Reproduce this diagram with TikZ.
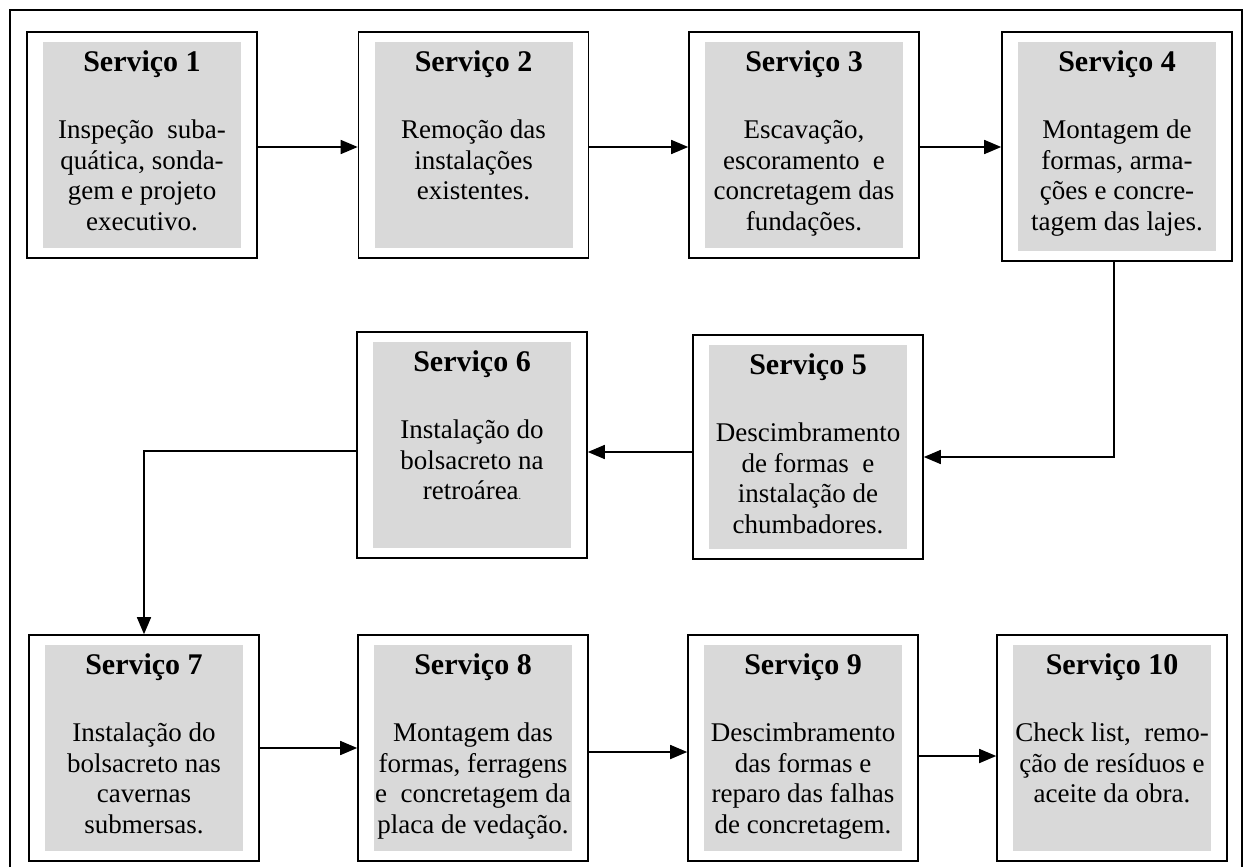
\documentclass[tikz,border=0pt]{standalone}
\usepackage{fontspec}
\setmainfont{Liberation Serif}
\usetikzlibrary{arrows.meta,calc}
\definecolor{boxgray}{RGB}{217,217,217}
\begin{document}
\begin{tikzpicture}[x=1pt,y=-1pt,
  svc/.style={draw, line width=1.6pt, minimum width=230pt, minimum height=226pt, inner sep=0pt,
    path picture={\fill[boxgray] ([xshift=16pt,yshift=-10pt]path picture bounding box.north west) rectangle ([xshift=-16pt,yshift=10pt]path picture bounding box.south east);}},
  ttl/.style={font=\fontsize{30}{34}\selectfont\bfseries, inner sep=0pt, anchor=base},
  body/.style={font=\fontsize{27}{30.5}\selectfont, align=center, inner sep=0pt, anchor=north},
  arr/.style={line width=1.6pt, -{Triangle[length=17pt,width=14pt]}},
  frame/.style={line width=1.6pt}]
\useasboundingbox (0,0) rectangle (1246,867);
\draw[frame] (10,867) -- (10,10) -- (1242,10) -- (1242,867);

% boxes
\node[svc] (b1) at (142,145) {};
\node[svc] (b2) at (473.5,145) {};
\node[svc] (b3) at (804,145) {};
\node[svc, minimum height=229pt] (b4) at (1117,146.5) {};
\node[svc] (b6) at (472,445) {};
\node[svc, minimum height=224pt] (b5) at (808,447) {};
\node[svc] (b7) at (144,748) {};
\node[svc] (b8) at (473,748) {};
\node[svc] (b9) at (803,748) {};
\node[svc] (b10) at (1112,748) {};

% titles
\foreach \i in {1,...,10}{
  \node[ttl] (t\i) at ([yshift=-40pt]b\i.north) {Serviço \i};
}

% bodies
\node[body] (d1) at ([yshift=-86pt]b1.north) {\strut Inspeção~~suba-\\\strut quática, sonda-\\\strut gem e projeto\\\strut executivo.};
\node[body] (d2) at ([yshift=-86pt]b2.north) {\strut Remoção das\\\strut instalações\\\strut existentes.};
\node[body] (d3) at ([yshift=-86pt]b3.north) {\strut Escavação,\\\strut escoramento~~e\\\strut concretagem das\\\strut fundações.};
\node[body] (d4) at ([yshift=-86pt]b4.north) {\strut Montagem de\\\strut formas, arma-\\\strut ções e concre-\\\strut tagem das lajes.};
\node[body] (d5) at ([yshift=-86pt]b5.north) {\strut Descimbramento\\\strut de formas~~e\\\strut instalação de\\\strut chumbadores.};
\node[body] (d6) at ([yshift=-86pt]b6.north) {\strut Instalação do\\\strut bolsacreto na\\\strut retroárea{\fontsize{10}{10}\selectfont .}};
\node[body] (d7) at ([yshift=-86pt]b7.north) {\strut Instalação do\\\strut bolsacreto nas\\\strut cavernas\\\strut submersas.};
\node[body] (d8) at ([yshift=-86pt]b8.north) {\strut Montagem das\\\strut formas, ferragens\\\strut e~~concretagem da\\\strut placa de vedação.};
\node[body] (d9) at ([yshift=-86pt]b9.north) {\strut Descimbramento\\\strut das formas e\\\strut reparo das falhas\\\strut de concretagem.};
\node[body] (d10) at ([yshift=-86pt]b10.north) {\strut Check list,~~remo-\\\strut ção de resíduos e\\\strut aceite da obra.};

% connectors
\coordinate (a12) at ([yshift=-2pt]b1.east);
\draw[arr] (a12) -- (a12 -| b2.west);
\coordinate (a23) at ([yshift=-2pt]b2.east);
\draw[arr] (a23) -- (a23 -| b3.west);
\coordinate (a34) at ([yshift=-2pt]b3.east);
\draw[arr] (a34) -- (a34 -| b4.west);
\coordinate (a45) at ([yshift=-10pt]b5.east);
\draw[arr] ([xshift=-3pt]b4.south) |- (a45);
\coordinate (a56) at ([yshift=-5pt]b5.west);
\draw[arr] (a56) -- (a56 -| b6.east);
\coordinate (a67) at ([yshift=-6pt]b6.west);
\draw[arr] (a67) -| (b7.north);
\draw[arr] (b7.east) -- (b8.west);
\coordinate (a89) at ([yshift=-4pt]b8.east);
\draw[arr] (a89) -- (a89 -| b9.west);
\coordinate (a910) at ([yshift=-8pt]b9.east);
\draw[arr] (a910) -- (a910 -| b10.west);
\end{tikzpicture}
\end{document}
